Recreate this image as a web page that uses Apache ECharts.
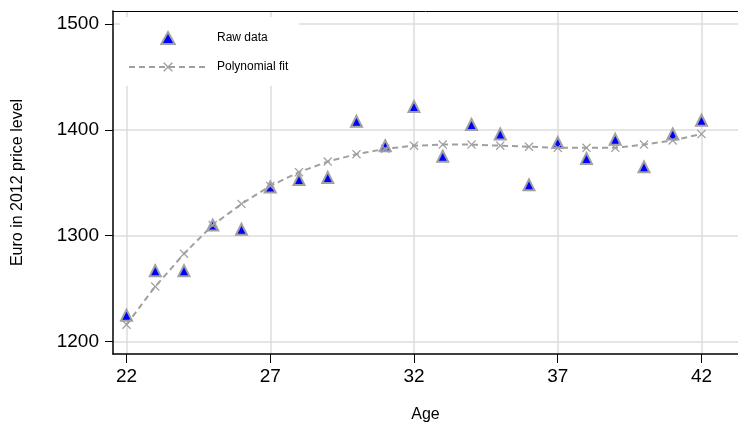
<!DOCTYPE html>
<html>
<head>
<meta charset="utf-8">
<script src="https://cdn.jsdelivr.net/npm/echarts@6/dist/echarts.min.js"></script>
<style>html,body{margin:0;padding:0;background:#fff;}#c{width:738px;height:428px;}</style>
</head>
<body>
<div id="c"></div>
<script>
const ages = [22,23,24,25,26,27,28,29,30,31,32,33,34,35,36,37,38,39,40,41,42];
const rawData = [1225,1267,1267,1310,1306,1346,1353,1355,1408,1385,1422,1375,1405,1396,1348,1388,1373,1391,1365,1396,1409];
const fitData = [1216,1252,1283,1310,1330,1347,1360,1370,1377,1382,1385,1386,1386,1385,1384,1383,1383,1383,1386,1390,1396];
const xTicks = [22,27,32,37,42];
const yTicks = [1200,1300,1400,1500];
const seriesNames = ['Raw data','Polynomial fit'];
const xName = 'Age';
const yName = 'Euro in 2012 price level';

const FONT = '"Liberation Sans", Arial, sans-serif';
const xMark = 'path://M0,1L1,0L5,4L9,0L10,1L6,5L10,9L9,10L5,6L1,10L0,9L4,5Z';
const triIcon = 'path://M5,0L10,9L0,9Z';

const chart = echarts.init(document.getElementById('c'), null, {renderer:'canvas'});
chart.setOption({
  animation: false,
  backgroundColor: '#fff',
  textStyle: {fontFamily: FONT},
  grid: {left: 113, right: 0, top: 11, bottom: 71, containLabel: false},
  legend: {
    orient: 'vertical', left: 120, top: 17,
    padding: [14, 11, 13, 8],
    backgroundColor: '#fff',
    itemWidth: 78, itemHeight: 12, itemGap: 16,
    symbolKeepAspect: true,
    textStyle: {fontSize: 12, color: '#000', fontFamily: FONT, padding: [0,0,0,5]},
    data: [{name: seriesNames[0], icon: triIcon}, {name: seriesNames[1]}]
  },
  xAxis: [{
    type: 'value', min: 21.5304, max: 43.2696,
    name: xName, nameLocation: 'middle', nameGap: 53,
    nameTextStyle: {fontSize: 16, color: '#000', fontFamily: FONT},
    axisLine: {show: true, onZero: false, lineStyle: {color: '#000', width: 1.5}},
    axisTick: {show: true, length: 9, customValues: xTicks, lineStyle: {color: '#000', width: 1}},
    axisLabel: {customValues: xTicks, fontSize: 19, color: '#000', margin: 13, fontFamily: FONT,
      formatter: v => String(v)},
    splitLine: {show: true, lineStyle: {color: '#dcdcdc', width: 1.5}}
  }, {
    type: 'value', position: 'top', min: 21.5304, max: 43.2696,
    axisLine: {show: true, onZero: false, lineStyle: {color: '#000', width: 1}},
    axisTick: {show: false}, axisLabel: {show: false}, splitLine: {show: false}
  }],
  yAxis: {
    type: 'value', min: 1188.30, max: 1512.17,
    name: yName, nameLocation: 'middle', nameGap: 87,
    nameTextStyle: {fontSize: 16, color: '#000', fontFamily: FONT},
    axisLine: {show: true, onZero: false, lineStyle: {color: '#000', width: 1.5}},
    axisTick: {show: true, length: 8, customValues: yTicks, lineStyle: {color: '#000', width: 1}},
    axisLabel: {customValues: yTicks, fontSize: 19, color: '#000', margin: 14, fontFamily: FONT,
      formatter: v => String(v)},
    splitLine: {show: true, lineStyle: {color: '#dcdcdc', width: 1.5}}
  },
  series: [{
    name: seriesNames[0], type: 'scatter', xAxisIndex: 0,
    symbol: 'triangle', symbolSize: 11,
    itemStyle: {color: '#0000ff', borderColor: '#a0a0a0', borderWidth: 2, opacity: 1},
    data: ages.map((a, i) => [a, rawData[i]]),
    z: 3
  }, {
    name: seriesNames[1], type: 'line', xAxisIndex: 0,
    symbol: xMark, symbolSize: 9, showSymbol: true,
    lineStyle: {color: '#a0a0a0', width: 2, type: [6, 4]},
    itemStyle: {color: '#a0a0a0', borderWidth: 0},
    data: ages.map((a, i) => [a, fitData[i]]),
    z: 4
  }]
});
</script>
</body>
</html>
